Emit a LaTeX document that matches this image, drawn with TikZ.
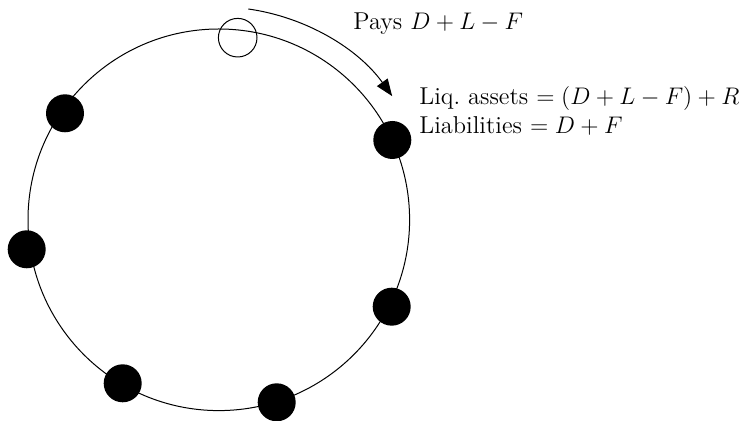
\documentclass[tikz,border=0pt]{standalone}
\usetikzlibrary{arrows.meta}
\begin{document}
\begin{tikzpicture}[x=0.5pt,y=-0.5pt,
  ring/.style={circle,draw,line width=0.5pt,minimum size=190.8pt,inner sep=0pt},
  bank/.style={circle,fill=black,minimum size=19pt,inner sep=0pt},
  openbank/.style={circle,draw,line width=0.5pt,minimum size=19.3pt,inner sep=0pt},
  lbl/.style={anchor=base west,inner sep=0pt,font=\fontsize{12.2}{14.5}\selectfont},
  flow/.style={line width=0.5pt,-{Triangle[length=8.5pt,width=6.5pt]}}]
\useasboundingbox (0,0) rectangle (750,421);
\node[ring] (ring) at (218.8,219.8) {};
\node[openbank] (payer) at (237.7,37.7) {};
\node[bank] (b1) at (65,113.3) {};
\node[bank] (b2) at (392.3,140) {};
\node[bank] (b3) at (26.7,249.3) {};
\node[bank] (b4) at (391.7,306.7) {};
\node[bank] (b5) at (122.7,383.3) {};
\node[bank] (b6) at (276.7,402.3) {};
\coordinate (astart) at (248.3,9);
\draw[flow] (astart) arc[start angle=-82, end angle=-35.6, radius=213.5];
\node[lbl] (pays) at (353,30) {Pays $D+L-F$};
\node[lbl] (liq) at (419,105) {Liq.\ assets $=(D+L-F)+R$};
\node[lbl] (liab) at (419,134) {Liabilities $=D+F$};
\end{tikzpicture}
\end{document}
